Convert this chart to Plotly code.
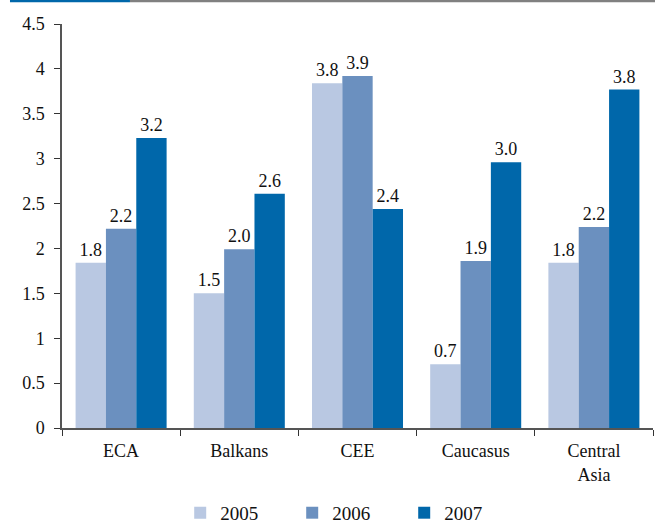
import plotly.graph_objects as go

regions = ["ECA", "Balkans", "CEE", "Caucasus", "Central<br>Asia"]
years = ["2005", "2006", "2007"]
values_2005 = [1.84, 1.50, 3.84, 0.71, 1.84]
values_2006 = [2.22, 1.99, 3.92, 1.86, 2.24]
values_2007 = [3.23, 2.61, 2.44, 2.96, 3.77]
y_ticks = [0, 0.5, 1, 1.5, 2, 2.5, 3, 3.5, 4, 4.5]
y_tick_text = ["0", "0.5", "1", "1.5", "2", "2.5", "3", "3.5", "4", "4.5"]

colors = ["#b9c8e2", "#6b90bf", "#0067aa"]
font_family = "'Liberation Serif', 'Times New Roman', serif"

fig = go.Figure()
for name, vals, col in zip(years, [values_2005, values_2006, values_2007], colors):
    fig.add_trace(go.Bar(
        x=regions, y=vals, name=name, marker=dict(color=col, line=dict(width=0)),
        texttemplate="%{y:.1f}", textposition="outside",
        textfont=dict(size=18, color="#111111", family=font_family),
        cliponaxis=False,
    ))

fig.update_layout(
    width=655, height=525,
    margin=dict(l=62, r=2, t=24, b=97, autoexpand=False),
    paper_bgcolor="white", plot_bgcolor="white",
    barmode="group", bargap=0.23, bargroupgap=0,
    font=dict(family=font_family, size=18, color="#111111"),
    showlegend=True,
    legend=dict(orientation="h", x=0.2, xanchor="left", y=-0.21, yanchor="middle",
                font=dict(size=19, family=font_family), entrywidth=67, entrywidthmode="pixels",
                itemsizing="constant", tracegroupgap=0),
    xaxis=dict(showline=True, linecolor="#555555", linewidth=1.5,
               ticks="outside", tickson="boundaries", ticklen=6, tickcolor="#333333",
               tickfont=dict(size=18, family=font_family), showgrid=False, automargin=False,
               ticklabelstandoff=6),
    yaxis=dict(range=[0, 4.5], tickvals=y_ticks, ticktext=y_tick_text,
               showline=True, linecolor="#555555", linewidth=1.5,
               ticks="outside", ticklen=6, tickcolor="#333333",
               tickfont=dict(size=18, family=font_family), showgrid=False, zeroline=False,
               automargin=False, ticklabelstandoff=6),
    shapes=[
        dict(type="rect", xref="paper", yref="paper", x0=-0.088, x1=0.115,
             y0=1.054, y1=1.06, fillcolor="#0067aa", line=dict(width=0)),
        dict(type="rect", xref="paper", yref="paper", x0=0.115, x1=1.01,
             y0=1.054, y1=1.06, fillcolor="#808080", line=dict(width=0)),
    ],
)

fig.write_html("out.html")
